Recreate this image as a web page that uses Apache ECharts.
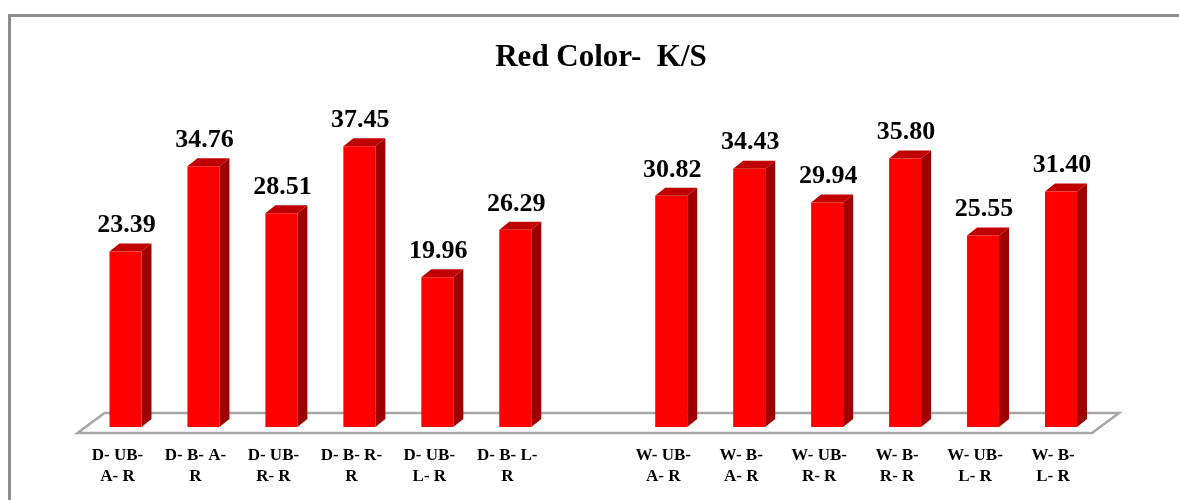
<!DOCTYPE html>
<html>
<head>
<meta charset="utf-8">
<script src="https://cdn.jsdelivr.net/npm/echarts@6/dist/echarts.min.js"></script>
<style>
  html, body { margin: 0; padding: 0; background: #ffffff; }
  #chart { width: 1179px; height: 500px; }
</style>
</head>
<body>
<div id="chart"></div>
<script>
// Sample codes shown under each bar (empty slot separates the D and W groups)
const sampleLabels = [
  'D- UB-\nA- R', 'D- B- A-\nR', 'D- UB-\nR- R', 'D- B- R-\nR', 'D- UB-\nL- R', 'D- B- L-\nR',
  '',
  'W- UB-\nA- R', 'W- B-\nA- R', 'W- UB-\nR- R', 'W- B-\nR- R', 'W- UB-\nL- R', 'W- B-\nL- R'
];
// K/S values for the red colour (null = spacer slot)
const ksValues = [23.39, 34.76, 28.51, 37.45, 19.96, 26.29, null, 30.82, 34.43, 29.94, 35.80, 25.55, 31.40];

const FONT = '"Liberation Serif", "Times New Roman", serif';
const BAR_W = 32;      // front face width
const DEPTH_X = 10;    // 3D depth offset
const DEPTH_Y = -8;

const barData = [];
ksValues.forEach(function (v, i) { if (v !== null) barData.push([i, v]); });

// 3D column: front face, right side, top face and value label
function renderBar(params, api) {
  const idx = api.value(0);
  const v = api.value(1);
  const base = api.coord([idx, 0]);
  const top = api.coord([idx, v]);
  const xl = base[0] - BAR_W / 2;
  const xr = base[0] + BAR_W / 2;
  const yb = base[1];
  const yt = top[1];
  return {
    type: 'group',
    children: [
      {
        type: 'polygon',
        shape: { points: [[xr, yb], [xr + DEPTH_X, yb + DEPTH_Y], [xr + DEPTH_X, yt + DEPTH_Y], [xr, yt]] },
        style: { fill: '#9e0000' }
      },
      {
        type: 'polygon',
        shape: { points: [[xl, yt], [xr, yt], [xr + DEPTH_X, yt + DEPTH_Y], [xl + DEPTH_X, yt + DEPTH_Y]] },
        style: { fill: '#c00000' }
      },
      {
        type: 'rect',
        shape: { x: xl, y: yt, width: BAR_W, height: yb - yt },
        style: { fill: '#ff0000' }
      },
      {
        type: 'text',
        x: base[0] + 1,
        y: yt - 13,
        style: {
          text: v.toFixed(2),
          align: 'center',
          verticalAlign: 'bottom',
          font: 'bold 26px ' + FONT,
          fill: '#000000'
        }
      }
    ]
  };
}

// Floor slab of the 3D plot area
function renderFloor(params, api) {
  const cs = params.coordSys;
  const yPlane = cs.y + cs.height;
  const l = cs.x, r = cs.x + cs.width;
  const fl = [l - 9, yPlane + 6], fr = [r - 8, yPlane + 6];
  const bl = [l + 18, yPlane - 14], br = [r + 19, yPlane - 14];
  return {
    type: 'polygon',
    shape: { points: [fl, fr, br, bl] },
    style: { fill: '#ffffff', stroke: '#a6a6a6', lineWidth: 2.5 }
  };
}

const chart = echarts.init(document.getElementById('chart'));
chart.setOption({
  backgroundColor: '#ffffff',
  animation: false,
  title: {
    text: 'Red Color-  K/S',
    left: 596,
    top: 37,
    textAlign: 'center',
    textStyle: { fontFamily: FONT, fontWeight: 'bold', fontSize: 31, color: '#000000' }
  },
  graphic: [
    {
      type: 'rect',
      z: -10,
      shape: { x: 9.5, y: 15.5, width: 1300, height: 700 },
      style: { fill: 'none', stroke: '#8c8c8c', lineWidth: 3 }
    }
  ],
  grid: { left: 86.5, right: 79, top: 127, bottom: 73 },
  xAxis: {
    type: 'category',
    data: sampleLabels,
    boundaryGap: true,
    axisLine: { show: false },
    axisTick: { show: false },
    axisLabel: {
      interval: 0,
      hideOverlap: false,
      margin: 18,
      padding: [0, 16, 0, 0],
      fontFamily: FONT,
      fontWeight: 'bold',
      fontSize: 17,
      lineHeight: 21,
      color: '#000000'
    }
  },
  yAxis: {
    type: 'value',
    min: 0,
    max: 40,
    show: false,
    splitLine: { show: false }
  },
  series: [
    {
      type: 'custom',
      z: 1,
      renderItem: renderFloor,
      data: [[0, 0]],
      encode: { x: 0, y: 1 },
      silent: true
    },
    {
      type: 'custom',
      z: 2,
      renderItem: renderBar,
      data: barData,
      encode: { x: 0, y: 1 }
    }
  ]
});
</script>
</body>
</html>
